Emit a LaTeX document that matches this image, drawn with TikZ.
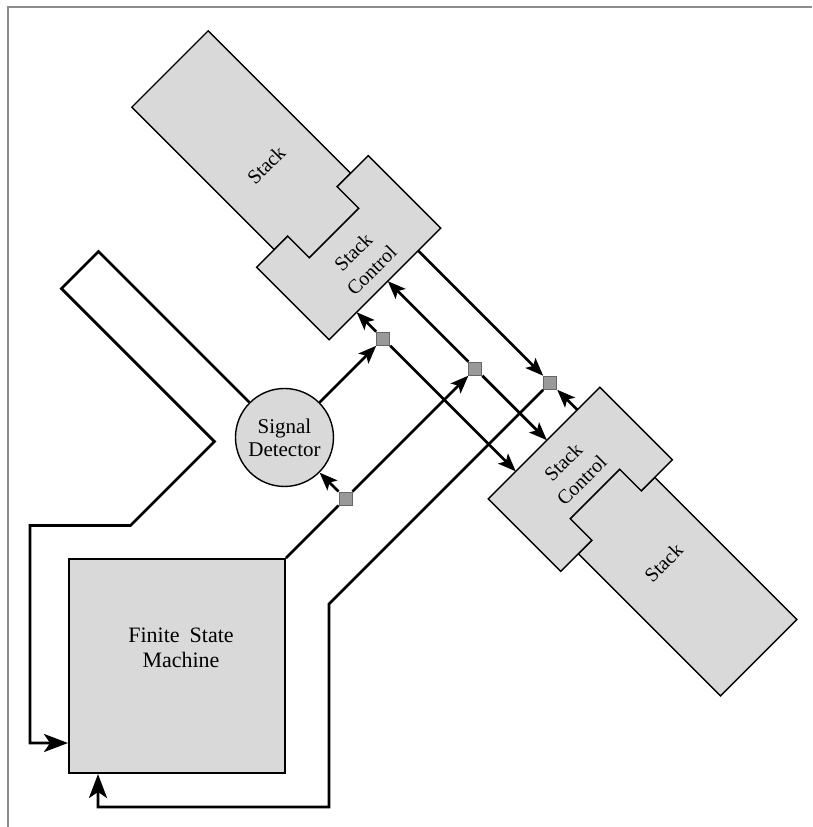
\documentclass[tikz,border=0pt]{standalone}
\usepackage{fontspec}
\setmainfont{Liberation Serif}
\usetikzlibrary{arrows.meta, positioning, calc}

\definecolor{boxgray}{gray}{0.85}
\definecolor{dotgray}{gray}{0.6}

\begin{document}
\begin{tikzpicture}[
  x=1pt, y=1pt,
  font=\fontsize{21}{23}\selectfont
]
\tikzstyle{part}=[draw=black, fill=boxgray, line width=1.4pt]
\tikzstyle{wire}=[draw=black, line width=2.7pt]
\tikzstyle{tip}=[-{Stealth[length=18pt,width=14pt,inset=4pt]}]
\tikzstyle{bigtip}=[-{Stealth[length=24pt,width=18pt,inset=6pt]}]
\tikzstyle{junction}=[draw=black!60, fill=dotgray, line width=1pt, minimum size=13pt, inner sep=0pt]
\tikzstyle{partlabel}=[rotate=45, align=center, font=\fontsize{20}{26}\selectfont]

\useasboundingbox (0,0) rectangle (812,-827);

% ================= FRAME =================
\draw[black!45, line width=2pt] (8,-827) -- (8,-7) -- (812,-7);

% ================= FINITE STATE MACHINE =================
\node[part, line width=2pt, minimum width=216pt, minimum height=214pt] (FSM) at (177,-666) {};
\node[align=center, font=\fontsize{22}{25}\selectfont] (FSMtxt) at (181,-648) {Finite\hspace{10pt}State\\Machine};

% ================= STACKS (rotated frame) =================
\begin{scope}[shift={(50.5,50.5)}, rotate=-45]
% upper stack and its control
\draw[part] (169,-54) -- (370.5,-54) -- (370.5,-35) -- (401,-35) -- (401,35)
  -- (370.5,35) -- (370.5,54) -- (169,54) -- cycle;
\draw[part] (370.5,-79) -- (473,-79) -- (473,79) -- (370.5,79) -- (370.5,35)
  -- (401,35) -- (401,-35) -- (370.5,-35) -- cycle;
\node[partlabel] (StkA) at (305,0) {Stack};
\node[partlabel] (CtlA) at (441,0) {Stack\\Control};

% lower stack and its control
\draw[part] (1001.5,-54) -- (800.5,-54) -- (800.5,-35) -- (770,-35) -- (770,35)
  -- (800.5,35) -- (800.5,54) -- (1001.5,54) -- cycle;
\draw[part] (698,-79) -- (800.5,-79) -- (800.5,-35) -- (770,-35) -- (770,35)
  -- (800.5,35) -- (800.5,79) -- (698,79) -- cycle;
\node[partlabel] (StkB) at (867,0) {Stack};
\node[partlabel] (CtlB) at (738,0) {Stack\\Control};

% ports on the control faces
\foreach \i/\v in {1/-40, 2/4, 3/47} {
  \coordinate (U\i) at (473,\v);
  \coordinate (L\i) at (698,\v);
}

% ===== Signal detector and junctions =====
\node[part, circle, minimum size=98pt, inner sep=0pt, align=center] (SD) at (510.5,-179.6) {Signal\\Detector};
\node[junction] (J0) at (596.8,-179.6) {};
\node[junction] (J1) at (510.5,-40) {};
\node[junction] (J2) at (596.8,4) {};
\node[junction] (J3) at (659.7,47) {};

% ===== Feedback band bends =====
\coordinate (b1) at (247.5,-179.6);
\coordinate (b2) at (247.5,-232);
\coordinate (b3) at (463.9,-232);
\coordinate (b4) at (463.9,-350.7);
\end{scope}

\coordinate (b5) at (30,-743);
\coordinate (w1) at (329,-604);
\coordinate (w2) at (98,-807);

% ===== FSM output =====
\draw[wire,tip] (FSM.north east) -- (J0) -- (J2);
\draw[wire,tip] (J0) -- (SD);
\draw[wire,tip] (SD) -- (J1);

% ===== To the stack controls =====
\foreach \i in {1,2} {
  \draw[wire,tip] (J\i) -- (U\i);
  \draw[wire,tip] (J\i) -- (L\i);
}
\draw[wire,tip] (U3) -- (J3);
\draw[wire,tip] (L3) -- (J3);

% ===== Back to the FSM =====
\draw[wire,bigtip] (J3) -- (w1) |- (w2) -- (w2 |- FSM.south);
\draw[wire,bigtip] (SD.135) -- (b1) -- (b2) -- (b3) -- (b4) -| (b5) -- (b5 -| FSM.west);

% junctions on top
\foreach \j in {J0,J1,J2,J3}
  \node[junction] at (\j) {};
\end{tikzpicture}
\end{document}
